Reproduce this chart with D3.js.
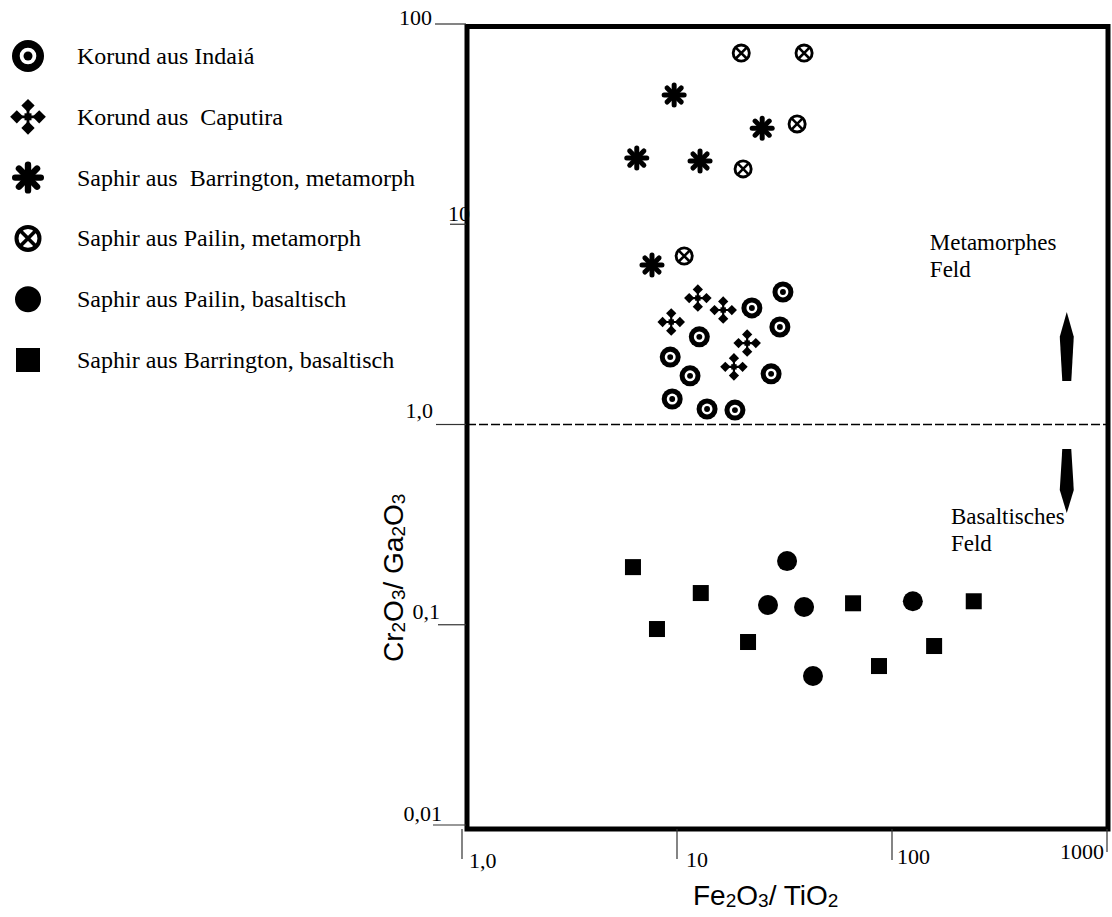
<!DOCTYPE html>
<html>
<head>
<meta charset="utf-8">
<script src="https://cdn.jsdelivr.net/npm/d3@7"></script>
<style>
  body { margin: 0; background: #fff; }
  svg { display: block; }
</style>
</head>
<body>
<svg id="chart" width="1112" height="917"></svg>
<script>
// axis ticks
const xTicks = [1, 10, 100, 1000];
const xTickLabels = ["1,0", "10", "100", "1000"];
const yTicks = [0.01, 0.1, 1, 10, 100];
const yTickLabels = ["0,01", "0,1", "1,0", "10", "100"];

// legend
const seriesKeys = ["indaia", "caputira", "barrMeta", "pailinMeta", "pailinBas", "barrBas"];
const seriesNames = [
    "Korund aus Indaiá",
    "Korund aus  Caputira",
    "Saphir aus  Barrington, metamorph",
    "Saphir aus Pailin, metamorph",
    "Saphir aus Pailin, basaltisch",
    "Saphir aus Barrington, basaltisch"
];

// [Fe2O3/TiO2, Cr2O3/Ga2O3]
const indaia = [[31.1, 4.59], [22.3, 3.82], [30.1, 3.07], [12.7, 2.74], [9.3, 2.17],
    [11.5, 1.75], [27.4, 1.79], [9.5, 1.34], [13.8, 1.195], [18.6, 1.18]];
const caputira = [[12.5, 4.28], [16.4, 3.73], [9.4, 3.25], [21.2, 2.55], [18.4, 1.94]];
const barrMeta = [[9.7, 44.2], [24.9, 30.2], [6.5, 21.4], [12.8, 20.7], [7.65, 6.26]];
const pailinMeta = [[19.9, 71.6], [39.0, 71.6], [36.2, 31.7], [20.3, 18.9], [10.8, 6.94]];
const pailinBas = [[32.5, 0.208], [26.5, 0.1255], [39.0, 0.1227], [42.9, 0.0555], [125, 0.131]];
const barrBas = [[6.24, 0.194], [12.9, 0.144], [8.07, 0.0952], [21.4, 0.082],
    [65.9, 0.128], [87, 0.0622], [157, 0.0783], [240, 0.131]];

const fieldLimit = 1;
const fieldLabels = [
    { lines: ["Metamorphes", "Feld"], x: 150, y: 7.4 },
    { lines: ["Basaltisches", "Feld"], x: 188, y: 0.318 }
];
// arrows: [x, tail y, head y]
const arrows = [[650, 1.65, 3.65], [650, 0.755, 0.361]];

const seriesData = { indaia, caputira, barrMeta, pailinMeta, pailinBas, barrBas };

const svg = d3.select("#chart");

const x = d3.scaleLog().domain([1, 1000]).range([462, 1107]);
const y = d3.scaleLog().domain([0.01, 100]).range([825, 24]);

const serif = "'Liberation Serif', 'Times New Roman', serif";
const sans = "'Liberation Sans', Arial, sans-serif";

// ---- marker shapes ----
function drawMarker(g, type, s) {
    if (type === "indaia") {
        g.append("circle").attr("r", s / 2).attr("fill", "#000");
        g.append("circle").attr("r", s * 0.26).attr("fill", "#fff");
        g.append("circle").attr("r", s * 0.14).attr("fill", "#000");
    } else if (type === "caputira") {
        const o = s * 0.32, h = s * 0.19;
        [[0, -o], [o, 0], [0, o], [-o, 0]].forEach(([dx, dy]) => {
            g.append("path")
                .attr("d", `M${dx},${dy - h}L${dx + h},${dy}L${dx},${dy + h}L${dx - h},${dy}Z`)
                .attr("fill", "#000");
        });
        const c = s * 0.1;
        g.append("rect").attr("x", -c).attr("y", -c).attr("width", 2 * c).attr("height", 2 * c).attr("fill", "#000");
        g.append("path")
            .attr("d", `M0,${-o}V${o}M${-o},0H${o}`)
            .attr("stroke", "#000").attr("stroke-width", s * 0.08);
    } else if (type === "barrMeta") {
        const sw = s * 0.2, l = (s - sw) / 2;
        [0, 45, 90, 135].forEach(a => {
            g.append("line")
                .attr("x1", -l).attr("x2", l)
                .attr("transform", `rotate(${a})`)
                .attr("stroke", "#000")
                .attr("stroke-width", sw)
                .attr("stroke-linecap", "round");
        });
        g.append("circle").attr("r", s * 0.2).attr("fill", "#000");
    } else if (type === "pailinMeta") {
        const sw = s * 0.15, r = (s - sw) / 2, d = r * Math.SQRT1_2;
        g.append("circle").attr("r", r).attr("fill", "#fff").attr("stroke", "#000").attr("stroke-width", sw);
        g.append("path")
            .attr("d", `M${-d},${-d}L${d},${d}M${d},${-d}L${-d},${d}`)
            .attr("stroke", "#000").attr("stroke-width", sw * 0.9);
    } else if (type === "pailinBas") {
        g.append("circle").attr("r", s / 2).attr("fill", "#000");
    } else if (type === "barrBas") {
        g.append("rect").attr("x", -s / 2).attr("y", -s / 2).attr("width", s).attr("height", s).attr("fill", "#000");
    }
}

const plotSize = { indaia: 21, caputira: 27, barrMeta: 25, pailinMeta: 19, pailinBas: 20, barrBas: 16 };
const legendSize = { indaia: 32, caputira: 35, barrMeta: 32, pailinMeta: 27, pailinBas: 26, barrBas: 24 };

// ---- frame ----
svg.append("rect")
    .attr("x", 467)
    .attr("y", 26.5)
    .attr("width", 1108 - 467)
    .attr("height", 829 - 26.5)
    .attr("fill", "none")
    .attr("stroke", "#000")
    .attr("stroke-width", 5);

// ---- y ticks ----
const yLineLen = [33, 28, 30, 16, 31];
const yLabelEnd = [442, 440, 433, 470, 432];
const yLabelShift = [-4, -6, -7, -3, 1];

svg.append("g").selectAll("line")
    .data(yTicks)
    .join("line")
    .attr("x1", (d, i) => 466 - yLineLen[i])
    .attr("x2", 466)
    .attr("y1", d => y(d))
    .attr("y2", d => y(d))
    .attr("stroke", "#333")
    .attr("stroke-width", 1.2);

svg.append("g").selectAll("text")
    .data(yTicks)
    .join("text")
    .attr("x", (d, i) => yLabelEnd[i])
    .attr("y", (d, i) => y(d) + yLabelShift[i])
    .attr("text-anchor", "end")
    .style("font-family", serif)
    .style("font-size", "22px")
    .text((d, i) => yTickLabels[i]);

// ---- x ticks ----
const xLineEnd = [859, 859, 860, 852];
const xLabelDx = [7, 9, 5, -3];
const xLabelY = [868, 867, 864, 859];

svg.append("g").selectAll("line")
    .data(xTicks)
    .join("line")
    .attr("x1", d => x(d))
    .attr("x2", d => x(d))
    .attr("y1", 829)
    .attr("y2", (d, i) => xLineEnd[i])
    .attr("stroke", "#333")
    .attr("stroke-width", 1.2);

svg.append("g").selectAll("text")
    .data(xTicks)
    .join("text")
    .attr("x", (d, i) => x(d) + xLabelDx[i])
    .attr("y", (d, i) => xLabelY[i])
    .attr("text-anchor", (d, i) => i === 3 ? "end" : "start")
    .style("font-family", serif)
    .style("font-size", "22px")
    .text((d, i) => xTickLabels[i]);

// ---- axis titles ----
function chemTitle(t, parts) {
    let prev = 0;
    parts.forEach(([txt, sub]) => {
        const shift = sub ? 2 : 0;
        t.append("tspan")
            .attr("dy", shift - prev)
            .style("font-size", sub ? "19px" : null)
            .text(txt);
        prev = shift;
    });
}

const xTitle = svg.append("text")
    .attr("x", 693)
    .attr("y", 905)
    .style("font-family", sans)
    .style("font-size", "28px");
chemTitle(xTitle, [["Fe"], ["2", 1], ["O"], ["3", 1], ["/ TiO"], ["2", 1]]);

const yTitle = svg.append("text")
    .attr("transform", "translate(403,662) rotate(-90)")
    .style("font-family", sans)
    .style("font-size", "28px");
chemTitle(yTitle, [["Cr"], ["2", 1], ["O"], ["3", 1], ["/ Ga"], ["2", 1], ["O"], ["3", 1]]);

// ---- field boundary ----
svg.append("line")
    .attr("x1", 467)
    .attr("x2", 1106)
    .attr("y1", y(fieldLimit))
    .attr("y2", y(fieldLimit))
    .attr("stroke", "#000")
    .attr("stroke-width", 1.6)
    .attr("stroke-dasharray", "9,3");

fieldLabels.forEach(f => {
    svg.append("text")
        .attr("x", x(f.x))
        .attr("y", y(f.y))
        .style("font-family", serif)
        .style("font-size", "23px")
        .selectAll("tspan")
        .data(f.lines)
        .join("tspan")
        .attr("x", x(f.x))
        .attr("dy", (d, i) => i === 0 ? 0 : 27)
        .text(d => d);
});

arrows.forEach(([ax, y0, y1]) => {
    const cx = x(ax), tail = y(y0), head = y(y1);
    const dir = Math.sign(head - tail);
    const len = Math.abs(head - tail);
    const sh = tail + dir * len * 0.64;
    svg.append("path")
        .attr("d", `M${cx - 4.5},${tail}L${cx + 4.5},${tail}L${cx + 7},${sh}L${cx},${head}L${cx - 7},${sh}Z`)
        .attr("fill", "#000");
});

// ---- data points ----
seriesKeys.forEach(key => {
    svg.append("g")
        .selectAll("g")
        .data(seriesData[key])
        .join("g")
        .attr("transform", d => `translate(${x(d[0])},${y(d[1])})`)
        .each(function () { drawMarker(d3.select(this), key, plotSize[key]); });
});

// ---- legend ----
const legendY = d3.scalePoint().domain(seriesKeys).range([56, 360]);
const legend = svg.append("g");
seriesKeys.forEach((key, i) => {
    const g = legend.append("g").attr("transform", `translate(28,${legendY(key)})`);
    drawMarker(g, key, legendSize[key]);
    legend.append("text")
        .attr("x", 77)
        .attr("y", legendY(key) + 8)
        .style("font-family", serif)
        .style("font-size", "24px")
        .style("white-space", "pre")
        .text(seriesNames[i]);
});
</script>
</body>
</html>
